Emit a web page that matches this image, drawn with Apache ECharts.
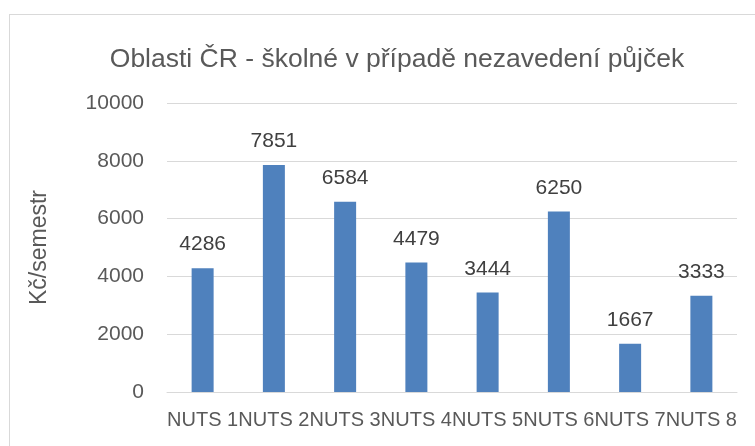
<!DOCTYPE html>
<html>
<head>
<meta charset="utf-8">
<script src="https://cdn.jsdelivr.net/npm/echarts@6/dist/echarts.min.js"></script>
<style>
html,body{margin:0;padding:0;background:#fff;}
#frame{position:absolute;left:9px;top:14px;right:0;bottom:0;border-left:1px solid #d9d9d9;border-top:1px solid #d9d9d9;}
#chart{position:absolute;left:0;top:0;width:755px;height:446px;}
</style>
</head>
<body>
<div id="frame"></div>
<div id="chart"></div>
<script>
const titleText = 'Oblasti ČR - školné v případě nezavedení půjček';
const yAxisName = 'Kč/semestr';
const categories = ['NUTS 1','NUTS 2','NUTS 3','NUTS 4','NUTS 5','NUTS 6','NUTS 7','NUTS 8'];
const values = [4286, 7851, 6584, 4479, 3444, 6250, 1667, 3333];
const yTicks = [0, 2000, 4000, 6000, 8000, 10000];

const FONT = '"Liberation Sans", Arial, sans-serif';
const chart = echarts.init(document.getElementById('chart'), null, {renderer:'canvas'});
chart.setOption({
  animation:false,
  backgroundColor:'transparent',
  title:{
    text:titleText,
    left:392, top:41,
    textAlign:'center',
    textStyle:{fontFamily:FONT, fontSize:26.5, fontWeight:'normal', color:'#595959'}
  },
  grid:{left:167, right:18, top:103, bottom:54, containLabel:false},
  xAxis:{
    type:'category',
    data:categories,
    axisLine:{show:true, lineStyle:{color:'#d9d9d9', width:1}},
    axisTick:{show:false},
    axisLabel:{interval:0, color:'#595959', fontFamily:FONT, fontSize:20, margin:18}
  },
  yAxis:{
    type:'value',
    min:yTicks[0], max:yTicks[yTicks.length-1], interval:2000,
    name:yAxisName,
    nameLocation:'middle',
    nameGap:116,
    nameTextStyle:{color:'#595959', fontFamily:FONT, fontSize:23},
    axisLine:{show:false},
    axisTick:{show:false},
    splitLine:{lineStyle:{color:'#d9d9d9', width:1}},
    axisLabel:{color:'#595959', fontFamily:FONT, fontSize:21, margin:23, formatter:function(v){return String(v);}}
  },
  series:[{
    type:'bar',
    data:values,
    barWidth:22,
    itemStyle:{color:'#4f81bd'},
    label:{show:true, position:'top', distance:13, color:'#404040', fontFamily:FONT, fontSize:21}
  }]
});
</script>
</body>
</html>
